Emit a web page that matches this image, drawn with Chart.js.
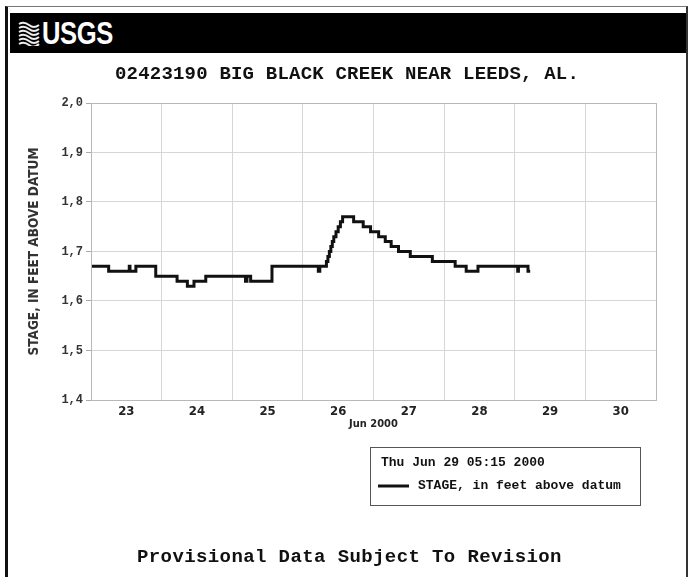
<!DOCTYPE html>
<html>
<head>
<meta charset="utf-8">
<title>02423190 Big Black Creek near Leeds, AL</title>
<script src="https://cdn.jsdelivr.net/npm/chart.js@4.4.1/dist/chart.umd.min.js"></script>
<style>
  html, body { margin: 0; padding: 0; background: #fff; }
  #page { position: relative; width: 689px; height: 577px; overflow: hidden; }
  #stageChart { position: absolute; left: 0; top: 0; }
  #frame {
    position: absolute; left: 5px; top: 6px; width: 683px; height: 580px;
    border-left: 3px solid #111; border-top: 1px solid #777; border-right: 2px solid #333;
    box-sizing: border-box; pointer-events: none;
  }
  #banner { position: absolute; left: 10px; top: 13px; width: 676px; height: 40px; background: #000; }
  #banner svg { position: absolute; left: 8px; top: 7px; }
  #banner .usgs {
    position: absolute; left: 32px; top: 2px; color: #fff;
    font: bold 32px "Liberation Sans", Arial, sans-serif;
    transform: scaleX(0.8); transform-origin: left center; letter-spacing: -0.5px;
  }
  .mono { position: absolute; font-family: "Liberation Mono", "DejaVu Sans Mono", monospace; font-weight: bold; color: #111; white-space: nowrap; }
  #title { left: 115px; top: 63px; font-size: 19px; letter-spacing: 0.2px; }
  #note { left: 137px; top: 546px; font-size: 19px; letter-spacing: 0.4px; }
</style>
</head>
<body>
<div id="page">
  <canvas id="stageChart" width="689" height="577"></canvas>
  <div id="banner">
    <svg width="22" height="26" viewBox="0 0 22 26">
      <rect x="0" y="0" width="22" height="26" fill="#000"/>
      <path d="M1 4 Q6 1 11 5 T21 5 M1 8 Q6 5 11 9 T21 9 M1 12 Q6 9 11 13 T21 13 M1 16 Q6 13 11 17 T21 17 M1 20 Q6 17 11 21 T21 21 M1 24 Q6 21 11 25 T21 24"
            stroke="#eee" stroke-width="2" fill="none"/>
    </svg>
    <div class="usgs">USGS</div>
  </div>
  <div id="title" class="mono">02423190 BIG BLACK CREEK NEAR LEEDS, AL.</div>
  <div id="note" class="mono">Provisional Data Subject To Revision</div>
  <div id="frame"></div>
</div>
<script>
// Gage height readings, June 2000 (day hh:mm, local) — a new entry only where the stage changes
const stageTimes = [
    '23 00:00', '23 06:00', '23 13:00', '23 13:15', '23 15:15', '23 22:00',
    '24 05:15', '24 08:45', '24 11:00', '24 15:00',
    '25 04:30', '25 05:00', '25 06:15', '25 13:30',
    '26 05:15', '26 05:45', '26 08:00', '26 08:30', '26 09:00', '26 09:30', '26 10:00',
    '26 10:30', '26 11:15', '26 12:00', '26 12:45', '26 13:30', '26 17:15', '26 20:30', '26 23:00',
    '27 01:45', '27 04:00', '27 06:00', '27 08:30', '27 12:30', '27 20:00',
    '28 03:45', '28 07:30', '28 11:30',
    '29 01:00', '29 01:15', '29 04:30', '29 05:15'
];
const stageFeet = [
    1.67, 1.66, 1.67, 1.66, 1.67, 1.65,
    1.64, 1.63, 1.64, 1.65,
    1.64, 1.65, 1.64, 1.67,
    1.66, 1.67, 1.68, 1.69, 1.70, 1.71, 1.72,
    1.73, 1.74, 1.75, 1.76, 1.77, 1.76, 1.75, 1.74,
    1.73, 1.72, 1.71, 1.70, 1.69, 1.68,
    1.67, 1.66, 1.67,
    1.66, 1.67, 1.66, 1.66
];

const firstDay = 23;
const dayLabels = ['23', '24', '25', '26', '27', '28', '29', '30'];
const stageTicks = [1.4, 1.5, 1.6, 1.7, 1.8, 1.9, 2.0];
const lastReading = 'Thu Jun 29 05:15 2000';
const seriesName = 'STAGE, in feet above datum';

// hours since midnight of the first day
function toHours(s) {
    const [day, hm] = s.split(' ');
    const [h, m] = hm.split(':').map(Number);
    return (Number(day) - firstDay) * 24 + h + m / 60;
}

const points = stageTimes.map((t, i) => ({ x: toHours(t), y: stageFeet[i] }));
const spanHours = dayLabels.length * 24;

const monoFont = '"Liberation Mono", "DejaVu Sans Mono", monospace';
const narrowFont = '"DejaVu Sans Condensed", "Liberation Sans Narrow", "Liberation Sans", sans-serif';

// box round the plot area plus the little legend under it
const framePlugin = {
    id: 'frameAndKey',
    afterDraw(chart) {
        const { ctx, chartArea: a } = chart;
        ctx.save();
        ctx.strokeStyle = '#b8b8b8';
        ctx.lineWidth = 1;
        ctx.strokeRect(Math.round(a.left) + 0.5, Math.round(a.top) + 0.5,
            Math.round(a.right - a.left), Math.round(a.bottom - a.top));

        const ds = chart.data.datasets[0];
        const bx = 370.5, by = 447.5, bw = 270, bh = 58;
        ctx.strokeStyle = '#555';
        ctx.strokeRect(bx, by, bw, bh);
        ctx.fillStyle = '#111';
        ctx.font = 'bold 13px ' + monoFont;
        ctx.textBaseline = 'middle';
        ctx.textAlign = 'left';
        ctx.fillText(lastReading, 381, 463);
        ctx.beginPath();
        ctx.moveTo(378, 486);
        ctx.lineTo(409, 486);
        ctx.strokeStyle = ds.borderColor;
        ctx.lineWidth = 3;
        ctx.stroke();
        ctx.fillText(ds.label, 418, 486);
        ctx.restore();
    }
};

new Chart(document.getElementById('stageChart'), {
    type: 'line',
    data: {
        datasets: [{
            label: seriesName,
            data: points,
            stepped: true,
            borderColor: '#111',
            borderWidth: 3,
            pointRadius: 0,
            fill: false
        }]
    },
    options: {
        responsive: false,
        animation: false,
        events: [],
        layout: { padding: { left: 10, right: 33, top: 103, bottom: 137 } },
        plugins: {
            legend: { display: false },
            tooltip: { enabled: false }
        },
        scales: {
            x: {
                type: 'linear',
                min: 0,
                max: spanHours,
                afterFit(scale) { scale.height = 40; },
                afterBuildTicks(scale) {
                    const t = [];
                    for (let h = 0; h <= spanHours; h += 12) t.push({ value: h });
                    scale.ticks = t;
                },
                ticks: {
                    autoSkip: false,
                    maxRotation: 0,
                    padding: 4,
                    color: '#222',
                    font: { family: narrowFont, size: 13, weight: 'bold' },
                    callback: (v) => (v % 24 === 12 ? dayLabels[(v - 12) / 24] : '')
                },
                grid: {
                    drawTicks: false,
                    color: (c) => (c.tick && c.tick.value % 24 === 0 ? '#d6d6d6' : 'rgba(0,0,0,0)')
                },
                border: { display: false },
                title: {
                    display: true,
                    text: 'Jun 2000',
                    color: '#222',
                    padding: { top: 0, bottom: 9 },
                    font: { family: narrowFont, size: 11, weight: 'bold' }
                }
            },
            y: {
                min: 1.4,
                max: 2.0,
                afterFit(scale) { scale.width = 81; },
                afterBuildTicks(scale) {
                    scale.ticks = stageTicks.map(v => ({ value: v }));
                },
                ticks: {
                    padding: 3,
                    color: '#333',
                    font: { family: monoFont, size: 12, weight: 'bold' },
                    callback: (v) => v.toFixed(1).replace('.', ',')
                },
                grid: {
                    color: '#d6d6d6',
                    tickColor: '#aaa',
                    tickLength: 5
                },
                border: { display: false },
                title: {
                    display: true,
                    text: 'STAGE, IN FEET ABOVE DATUM',
                    color: '#333',
                    padding: { top: 16, bottom: 0 },
                    font: { family: narrowFont, size: 13.5, weight: 'bold' }
                }
            }
        }
    },
    plugins: [framePlugin]
});
</script>
</body>
</html>
